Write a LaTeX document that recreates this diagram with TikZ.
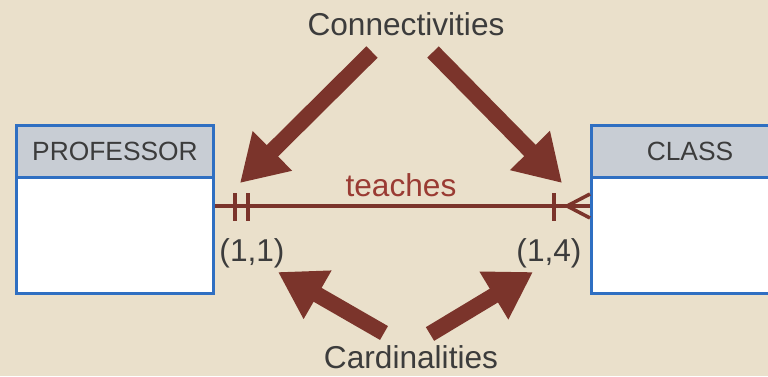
\documentclass[tikz,border=0pt]{standalone}
\usepackage{fontspec}
\setmainfont{Liberation Sans}
\usetikzlibrary{arrows.meta,positioning}
\definecolor{bgbeige}{HTML}{EAE0CB}
\definecolor{arrowred}{HTML}{7B342B}
\definecolor{labelred}{HTML}{9A3B33}
\definecolor{headgray}{HTML}{C8CDD4}
\definecolor{boxblue}{HTML}{2F6FC2}
\definecolor{textgray}{HTML}{3C3C3C}

\begin{document}
\begin{tikzpicture}[x=0.02cm,y=-0.02cm,
    entityhead/.style={draw=boxblue,line width=1.7pt,fill=headgray,minimum width=3.94cm,minimum height=1.04cm,inner sep=0pt,font=\fontsize{15}{18}\selectfont,text=textgray},
    entitybody/.style={draw=boxblue,line width=1.7pt,fill=white,minimum width=3.94cm,minimum height=2.32cm,inner sep=0pt},
    relline/.style={arrowred,line width=2pt},
    relbar/.style={arrowred,line width=2.8pt},
    bigarrow/.style={arrowred,line width=9.1pt,-{Triangle[length=26pt,width=30pt]}},
    bigtext/.style={font=\fontsize{18}{21}\selectfont,text=textgray,inner sep=0pt}]
    % Background
    \fill[bgbeige] (0,0) rectangle (768,376);
    \useasboundingbox (0,0) rectangle (768,376);

    % Entities
    \node[entityhead,anchor=north west] (prof-head) at (15,124) {PROFESSOR};
    \node[entitybody,below=-1.7pt of prof-head] (prof-body) {};
    \node[entityhead,anchor=north west] (class-head) at (590,124) {CLASS};
    \node[entitybody,below=-1.7pt of class-head] (class-body) {};

    % Relationship line with bars and crow's foot
    \draw[relline] ([yshift=-0.6cm]prof-body.north east) -- ([yshift=-0.6cm]class-body.north west);
    \foreach \bx in {235,248}{
      \draw[relbar] (\bx,193) -- (\bx,221);
    }
    \draw[relbar] (554,193) -- (554,221);
    \coordinate (crow) at (567,206);
    \foreach \fy in {194,206,218}{
      \draw[relline] (crow) -- (class-body.west |- 0,\fy);
    }

    % Labels
    \node[bigtext,text=labelred,anchor=base] (rel-label) at (401,196) {teaches};
    \node[bigtext,anchor=base] (card-l) at (252,261) {(1,1)};
    \node[bigtext,anchor=base] (card-r) at (549,261) {(1,4)};
    \node[bigtext,anchor=base] (conn-title) at (406,35) {Connectivities};
    \node[bigtext,anchor=base] (card-title) at (411,368) {Cardinalities};

    % Block arrows
    \coordinate (conn-l-tail) at (372,52);
    \coordinate (conn-l-tip) at (240,183);
    \coordinate (conn-r-tail) at (433,52);
    \coordinate (conn-r-tip) at (562,183);
    \coordinate (card-l-tail) at (384,333);
    \coordinate (card-l-tip) at (278,272);
    \coordinate (card-r-tail) at (430,334);
    \coordinate (card-r-tip) at (533,272);
    \foreach \a in {conn-l,conn-r,card-l,card-r}{
      \draw[bigarrow] (\a-tail) -- (\a-tip);
    }
\end{tikzpicture}
\end{document}
